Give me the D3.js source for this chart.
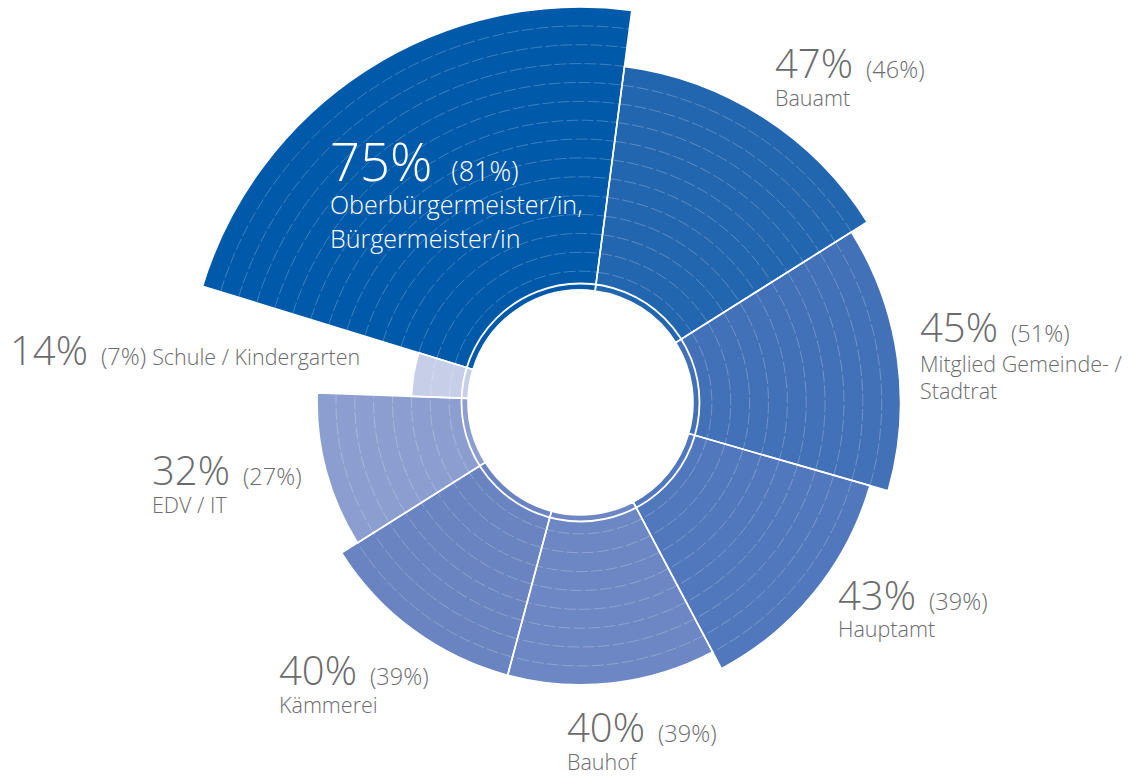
<!DOCTYPE html>
<html lang="de">
<head>
<meta charset="UTF-8">
<title>Zuständigkeit</title>
<script src="https://d3js.org/d3.v7.min.js"></script>
<style>
  body { margin: 0; background: #fff; }
  svg text { font-family: "Open Sans", "DejaVu Sans", sans-serif; font-weight: 300; }
</style>
</head>
<body>
<script>
// data
var categories = ["Oberbürgermeister/in, Bürgermeister/in", "Bauamt", "Mitglied Gemeinde- / Stadtrat",
                  "Hauptamt", "Bauhof", "Kämmerei", "EDV / IT", "Schule / Kindergarten"];
var labelLines = [["Oberbürgermeister/in,", "Bürgermeister/in"], ["Bauamt"], ["Mitglied Gemeinde- /", "Stadtrat"],
                  ["Hauptamt"], ["Bauhof"], ["Kämmerei"], ["EDV / IT"], ["Schule / Kindergarten"]];
var values = [75, 47, 45, 43, 40, 40, 32, 14];      // current share (%)
var previous = [81, 46, 51, 39, 39, 39, 27, 7];     // value in brackets
var rings = [15, 12, 11, 10, 9, 9, 8, 3];           // number of bands drawn per segment
var colors = ["#0059a9", "#2366b0", "#4271b8", "#5178bd", "#6c87c3", "#6a84c1", "#8b9ecf", "#c7cfe8"];

// layout
var width = 1134, height = 781;
var cx = 580.5, cy = 402.5;
var innerR = 112.5, ringR = 119, outerMax = 395.5;
var startDeg = -72.9;

// label placement (x, baseline y, sizes)
var labelPos = [
  {x: 330, y: 181, big: 52.5, small: 27, text: 25, gap: 19, lh: 34, first: 33, fill: "#fff"},
  {x: 775, y: 77.5, big: 40, small: 23.5, text: 21.5, gap: 13, lh: 27, first: 28},
  {x: 920, y: 341.5, big: 40, small: 23.5, text: 21.5, gap: 13, lh: 27, first: 30},
  {x: 838, y: 609.5, big: 40, small: 23.5, text: 21.5, gap: 13, lh: 27, first: 27},
  {x: 567, y: 741.5, big: 40, small: 23.5, text: 21.5, gap: 13, lh: 27, first: 28},
  {x: 279, y: 685, big: 40, small: 23.5, text: 21.5, gap: 13, lh: 27, first: 28},
  {x: 152, y: 485, big: 40, small: 23.5, text: 21.5, gap: 13, lh: 27, first: 28},
  {x: 10, y: 365, big: 40, small: 23.5, text: 21.5, gap: 13, lh: 27, inline: true}
];

var svg = d3.select("body").append("svg")
    .attr("width", width)
    .attr("height", height);

var g = svg.append("g").attr("transform", "translate(" + cx + "," + cy + ")");

var rScale = d3.scaleLinear().domain([0, d3.max(rings)]).range([innerR, outerMax]);

var a0 = startDeg * Math.PI / 180;
var pie = d3.pie().sort(null).value(function(d) { return d; })
    .startAngle(a0).endAngle(a0 + 2 * Math.PI);
var slices = pie(values);

var arc = d3.arc()
    .innerRadius(innerR)
    .outerRadius(function(d) { return rScale(rings[d.index]); });

// filled segments
g.selectAll("path.seg")
  .data(slices)
  .enter().append("path")
    .attr("class", "seg")
    .attr("d", arc)
    .attr("fill", function(d) { return colors[d.index]; });

// faint dashed bands inside each segment
slices.forEach(function(s) {
  for (var k = 1; k < rings[s.index]; k++) {
    var p = d3.path();
    p.arc(0, 0, rScale(k), s.startAngle - Math.PI / 2, s.endAngle - Math.PI / 2);
    g.append("path")
      .attr("d", p.toString())
      .attr("fill", "none")
      .attr("stroke", "#fff")
      .attr("stroke-opacity", 0.3)
      .attr("stroke-width", 0.8)
      .attr("stroke-dasharray", "12 3");
  }
});

// white inner ring
g.append("circle")
  .attr("r", ringR)
  .attr("fill", "none")
  .attr("stroke", "#fff")
  .attr("stroke-width", 1.8);

// white separators
g.selectAll("path.sep")
  .data(slices)
  .enter().append("path")
    .attr("class", "sep")
    .attr("d", arc)
    .attr("fill", "none")
    .attr("stroke", "#fff")
    .attr("stroke-width", 1.6);

// labels
var gray = "#6b6b6e";
labelPos.forEach(function(lp, i) {
  var col = lp.fill || gray;
  var t = svg.append("text")
    .attr("x", lp.x)
    .attr("y", lp.y)
    .attr("fill", col);
  t.append("tspan").attr("font-size", lp.big).text(values[i] + "%");
  t.append("tspan").attr("font-size", lp.small).attr("dx", lp.gap).text("(" + previous[i] + "%)");
  if (lp.inline) {
    t.append("tspan").attr("font-size", lp.text).attr("dx", 6).text(labelLines[i][0]);
  } else {
    labelLines[i].forEach(function(line, j) {
      svg.append("text")
        .attr("x", lp.x)
        .attr("y", lp.y + lp.first + j * lp.lh)
        .attr("fill", col)
        .attr("font-size", lp.text)
        .text(line);
    });
  }
});
</script>
</body>
</html>
